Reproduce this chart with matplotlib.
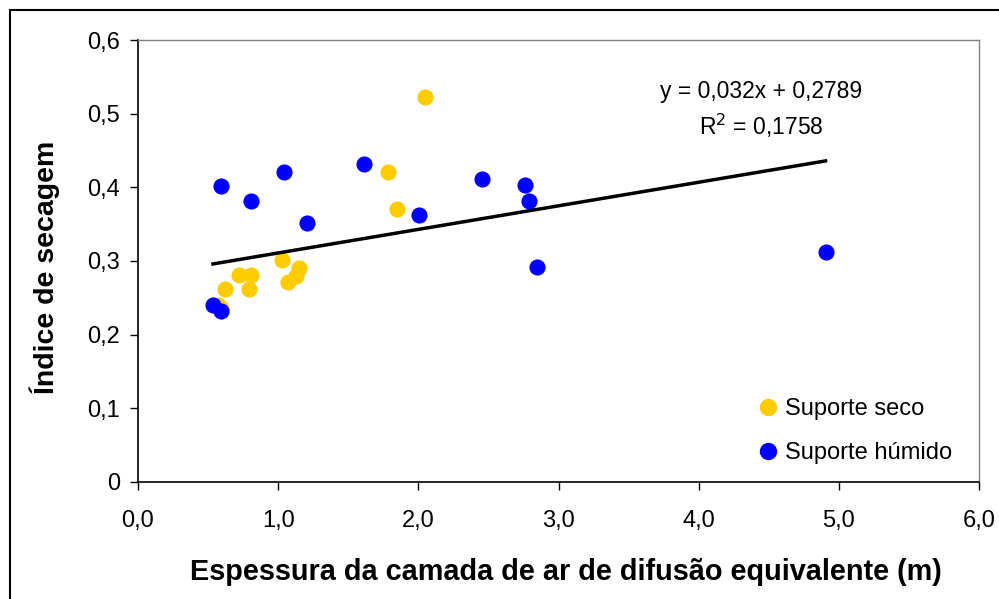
import matplotlib
matplotlib.use("Agg")
import matplotlib.pyplot as plt
from matplotlib.patches import Rectangle
from matplotlib.lines import Line2D

plt.rcParams["font.family"] = ["Liberation Sans", "DejaVu Sans"]

# Suporte seco (yellow)
seco_x = [0.57, 0.59, 0.621, 0.718, 0.790, 0.804, 1.027, 1.068, 1.125, 1.151, 1.781, 1.850, 2.047]
seco_y = [0.240, 0.236, 0.262, 0.281, 0.262, 0.281, 0.301, 0.272, 0.280, 0.291, 0.421, 0.371, 0.522]

# Suporte húmido (blue)
humido_x = [0.535, 0.595, 0.595, 0.804, 1.041, 1.208, 1.615, 2.004, 2.452, 2.760, 2.787, 2.844, 4.905]
humido_y = [0.240, 0.402, 0.232, 0.381, 0.421, 0.352, 0.432, 0.362, 0.411, 0.403, 0.381, 0.292, 0.312]

slope = 0.032
intercept = 0.2789
r2 = 0.1758

x_ticks = [0, 1, 2, 3, 4, 5, 6]
x_labels = ["0,0", "1,0", "2,0", "3,0", "4,0", "5,0", "6,0"]
y_ticks = [0, 0.1, 0.2, 0.3, 0.4, 0.5, 0.6]
y_labels = ["0", "0,1", "0,2", "0,3", "0,4", "0,5", "0,6"]

fig = plt.figure(figsize=(9.99, 5.99), dpi=100)
ax = fig.add_axes([138 / 999, 1 - 482 / 599, 841 / 999, 442 / 599])

# outer chart border
fig.patches.append(Rectangle((10 / 999, -0.1), 1.2, 1 - 10 / 599 + 0.1,
                             transform=fig.transFigure, fill=False,
                             edgecolor="black", linewidth=1.5))

ax.scatter(seco_x, seco_y, s=135, color="#FFCC00", zorder=3, linewidths=0)
ax.scatter(humido_x, humido_y, s=135, color="#0000FF", zorder=3, linewidths=0)

all_x = seco_x + humido_x
xl = [min(all_x), max(all_x)]
ax.plot(xl, [slope * v + intercept for v in xl], color="black", linewidth=2.5, zorder=4)

fig.text(761 / 999, 1 - 91 / 599, "y = 0,032x + 0,2789", ha="center", va="center", fontsize=16.5)
fig.text(761 / 999, 1 - 126 / 599, "R$^2$ = 0,1758", ha="center", va="center", fontsize=16.5)

ax.set_xlim(0, 6)
ax.set_ylim(0, 0.6)
ax.set_xticks(x_ticks)
ax.set_xticklabels(x_labels, fontsize=17)
ax.set_yticks(y_ticks)
ax.set_yticklabels(y_labels, fontsize=17)
ax.tick_params(axis="both", direction="out", length=6, width=1, color="black")
ax.tick_params(axis="x", pad=14)
ax.tick_params(axis="y", pad=7)

for side in ["left", "bottom"]:
    ax.spines[side].set_color("black")
    ax.spines[side].set_linewidth(1.2)
for side in ["top", "right"]:
    ax.spines[side].set_color("#808080")
    ax.spines[side].set_linewidth(1)

ax.set_xlabel("Espessura da camada de ar de difusão equivalente (m)",
              fontsize=20.8, fontweight="bold", va="center")
ax.xaxis.set_label_coords((566 - 138) / 841, (482 - 572) / 442)
ax.set_ylabel("Índice de secagem", fontsize=20.5, fontweight="bold", va="center")
ax.yaxis.set_label_coords((45 - 138) / 841, 0.485)

handles = [
    Line2D([], [], marker="o", linestyle="", markersize=11.5, color="#FFCC00", label="Suporte seco"),
    Line2D([], [], marker="o", linestyle="", markersize=11.5, color="#0000FF", label="Suporte húmido"),
]
fig.legend(handles=handles, loc="center left", bbox_to_anchor=(735 / 999, 1 - 431 / 599),
           frameon=False, fontsize=17, handletextpad=0.2, labelspacing=0.95,
           handlelength=1.0, borderpad=0.4)

fig.savefig("out.png", dpi=100)
